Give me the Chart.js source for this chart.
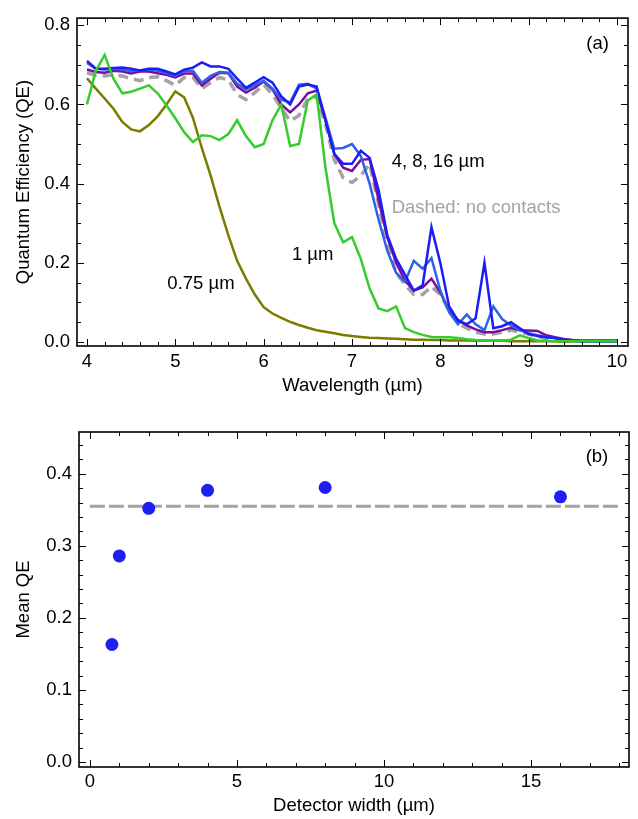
<!DOCTYPE html>
<html>
<head>
<meta charset="utf-8">
<script src="https://cdn.jsdelivr.net/npm/chart.js@4.4.0/dist/chart.umd.min.js"></script>
<style>
  body { margin: 0; background: #fff; }
  #wrap { position: relative; width: 638px; height: 819px; }
  canvas { position: absolute; left: 0; }
  #topChart { top: 0; }
  #bottomChart { top: 400px; }
</style>
</head>
<body>
<div id="wrap">
  <canvas id="topChart" width="638" height="400"></canvas>
  <canvas id="bottomChart" width="638" height="419"></canvas>
</div>
<script>
// (a) quantum efficiency vs wavelength
const wavelength = [4.0,4.1,4.2,4.3,4.4,4.5,4.6,4.7,4.8,4.9,5.0,5.1,5.2,5.3,5.4,5.5,5.6,5.7,5.8,5.9,
  6.0,6.1,6.2,6.3,6.4,6.5,6.6,6.7,6.8,6.9,7.0,7.1,7.2,7.3,7.4,7.5,7.6,7.7,7.8,7.9,
  8.0,8.1,8.2,8.3,8.4,8.5,8.6,8.7,8.8,8.9,9.0,9.1,9.2,9.3,9.4,9.5,9.6,9.7,9.8,9.9,10.0];

const qeW075 = [0.666,0.640,0.615,0.589,0.556,0.537,0.532,0.548,0.570,0.600,
  0.633,0.618,0.566,0.490,0.420,0.342,0.270,0.205,0.160,0.120,
  0.088,0.072,0.061,0.051,0.043,0.036,0.030,0.026,0.022,0.018,
  0.015,0.013,0.011,0.010,0.009,0.008,0.007,0.006,0.006,0.005,
  0.005,0.004,0.004,0.004,0.003,0.003,0.003,0.003,0.002,0.002,
  0.002,0.002,0.002,0.002,0.001,0.001,0.001,0.001,0.001,0.001,0.001];

const qeW1 = [0.600,0.685,0.725,0.665,0.628,0.632,0.640,0.648,0.628,0.598,
  0.565,0.530,0.505,0.522,0.520,0.510,0.525,0.560,0.520,0.492,
  0.500,0.560,0.600,0.495,0.500,0.610,0.625,0.440,0.300,0.252,
  0.265,0.210,0.135,0.085,0.078,0.090,0.035,0.025,0.018,0.013,
  0.012,0.012,0.010,0.007,0.005,0.004,0.004,0.004,0.006,0.017,
  0.010,0.004,0.003,0.002,0.002,0.002,0.002,0.002,0.002,0.002,0.002];

const qeW4 = [0.688,0.682,0.680,0.685,0.683,0.678,0.683,0.683,0.679,0.675,
  0.668,0.678,0.678,0.648,0.665,0.680,0.679,0.645,0.630,0.642,
  0.658,0.638,0.600,0.580,0.600,0.628,0.635,0.560,0.475,0.440,
  0.432,0.460,0.462,0.360,0.265,0.200,0.155,0.130,0.138,0.160,
  0.125,0.080,0.056,0.042,0.032,0.025,0.025,0.030,0.036,0.030,
  0.029,0.028,0.017,0.012,0.008,0.005,0.004,0.004,0.004,0.004,0.004];

const qeW8 = [0.710,0.690,0.690,0.692,0.693,0.690,0.686,0.690,0.690,0.683,
  0.676,0.688,0.693,0.706,0.696,0.696,0.690,0.665,0.642,0.655,
  0.669,0.655,0.620,0.600,0.645,0.650,0.645,0.560,0.475,0.450,
  0.450,0.483,0.465,0.385,0.270,0.210,0.170,0.130,0.143,0.290,
  0.200,0.090,0.054,0.045,0.060,0.200,0.035,0.040,0.050,0.035,
  0.020,0.015,0.012,0.010,0.006,0.003,0.002,0.002,0.002,0.002,0.002];

const qeW16 = [0.705,0.690,0.688,0.690,0.688,0.684,0.686,0.688,0.685,0.680,
  0.672,0.685,0.685,0.655,0.672,0.682,0.680,0.652,0.638,0.648,
  0.660,0.640,0.612,0.605,0.650,0.652,0.640,0.566,0.488,0.490,
  0.500,0.470,0.400,0.310,0.230,0.175,0.152,0.205,0.185,0.212,
  0.130,0.075,0.045,0.070,0.045,0.030,0.090,0.058,0.042,0.030,
  0.022,0.017,0.013,0.010,0.006,0.004,0.002,0.002,0.002,0.002,0.002];

const qeNoContacts = [0.680,0.673,0.672,0.675,0.672,0.665,0.660,0.668,0.670,0.660,
  0.648,0.668,0.668,0.640,0.655,0.668,0.662,0.625,0.612,0.630,
  0.650,0.625,0.590,0.558,0.572,0.615,0.620,0.550,0.460,0.415,
  0.403,0.420,0.450,0.350,0.245,0.175,0.145,0.120,0.120,0.140,
  0.120,0.080,0.047,0.035,0.025,0.020,0.020,0.025,0.030,0.025,
  0.020,0.014,0.008,0.005,0.003,0.002,0.002,0.002,0.002,0.002,0.002];

// (b) mean QE vs detector width
const detectorWidth = [0.75, 1, 2, 4, 8, 16];
const meanQE = [0.163, 0.286, 0.352, 0.377, 0.381, 0.368];
const noContactMean = 0.355;
const noContactSpan = [0, 18];

const FONT = "'Liberation Sans', Arial, Helvetica, sans-serif";
const FS = 18.5;

function isMajor(v, step) {
    return Math.abs(v / step - Math.round(v / step)) < 1e-6;
}

function tickList(from, to, step) {
    const out = [];
    const n = Math.round((to - from) / step);
    for (let i = 0; i <= n; i++) out.push({ value: +(from + i * step).toFixed(4) });
    return out;
}

function toPoints(xs, ys) {
    return xs.map((x, i) => ({ x: x, y: ys[i] }));
}

// inward ticks on all four sides plus the frame
const frameTicks = {
    id: 'frameTicks',
    afterDraw(chart, args, opts) {
        const { ctx, chartArea: a } = chart;
        const xs = chart.scales.x, ys = chart.scales.y;
        ctx.save();
        ctx.strokeStyle = '#000';
        ctx.lineWidth = 1;
        ctx.beginPath();
        xs.ticks.forEach(t => {
            const p = Math.round(xs.getPixelForValue(t.value)) + 0.5;
            const len = isMajor(t.value, opts.xMajor) ? 7 : 4;
            ctx.moveTo(p, a.bottom); ctx.lineTo(p, a.bottom - len);
            ctx.moveTo(p, a.top); ctx.lineTo(p, a.top + len);
        });
        ys.ticks.forEach(t => {
            const p = Math.round(ys.getPixelForValue(t.value)) + 0.5;
            const len = isMajor(t.value, opts.yMajor) ? 7 : 4;
            ctx.moveTo(a.left, p); ctx.lineTo(a.left + len, p);
            ctx.moveTo(a.right, p); ctx.lineTo(a.right - len, p);
        });
        ctx.stroke();
        ctx.lineWidth = 1.6;
        ctx.strokeRect(a.left, a.top, a.right - a.left, a.bottom - a.top);
        ctx.restore();
    }
};

// text notes placed in data coordinates
const notes = {
    id: 'notes',
    afterDatasetsDraw(chart, args, opts) {
        const { ctx } = chart;
        const xs = chart.scales.x, ys = chart.scales.y;
        ctx.save();
        ctx.font = FS + 'px ' + FONT;
        ctx.textBaseline = 'middle';
        opts.items.forEach(n => {
            ctx.fillStyle = n.color;
            ctx.textAlign = n.align;
            ctx.fillText(n.text, xs.getPixelForValue(n.x), ys.getPixelForValue(n.y));
        });
        ctx.restore();
    }
};

function lineSet(label, data, color, width, dash) {
    return {
        label: label,
        data: toPoints(wavelength, data),
        borderColor: color,
        borderWidth: width,
        borderDash: dash || [],
        pointRadius: 0,
        fill: false,
        tension: 0
    };
}

new Chart(document.getElementById('topChart'), {
    type: 'line',
    data: {
        datasets: [
            lineSet('1 µm', qeW1, '#35cc2c', 2.5),
            lineSet('8 µm', qeW8, '#1c1cf6', 2.5),
            lineSet('16 µm', qeW16, '#2c62e6', 2.5),
            lineSet('4 µm', qeW4, '#7d0a9e', 2.5),
            lineSet('no contacts', qeNoContacts, '#a3a3a3', 3.5, [10, 6]),
            lineSet('0.75 µm', qeW075, '#7b7b00', 2.5)
        ]
    },
    options: {
        responsive: false,
        animation: false,
        devicePixelRatio: 1,
        layout: { padding: { top: 6, right: 10, left: 0, bottom: 0 } },
        plugins: {
            legend: { display: false },
            tooltip: { enabled: false },
            frameTicks: { xMajor: 1, yMajor: 0.2 },
            notes: {
                items: [
                    { text: '(a)', x: 9.78, y: 0.752, color: '#000', align: 'center' },
                    { text: '4, 8, 16 µm', x: 7.45, y: 0.455, color: '#000', align: 'left' },
                    { text: 'Dashed: no contacts', x: 7.45, y: 0.338, color: '#a3a3a3', align: 'left' },
                    { text: '1 µm', x: 6.32, y: 0.221, color: '#000', align: 'left' },
                    { text: '0.75 µm', x: 4.91, y: 0.148, color: '#000', align: 'left' }
                ]
            }
        },
        scales: {
            x: {
                type: 'linear',
                min: 3.887,
                max: 10.125,
                grid: { display: false, drawTicks: false },
                border: { display: false },
                afterBuildTicks: s => { s.ticks = tickList(4, 10, 0.2); },
                afterFit: s => { s.height = 54; },
                ticks: {
                    autoSkip: false, maxRotation: 0, padding: 5, color: '#000',
                    font: { family: FONT, size: FS },
                    callback: v => isMajor(v, 1) ? String(Math.round(v)) : ''
                },
                title: {
                    display: true, text: 'Wavelength (µm)', color: '#000',
                    font: { family: FONT, size: FS }, padding: { top: 0, bottom: 3 }
                }
            },
            y: {
                min: -0.01,
                max: 0.818,
                grid: { display: false, drawTicks: false },
                border: { display: false },
                afterBuildTicks: s => { s.ticks = tickList(0, 0.8, 0.05); },
                afterFit: s => { s.width = 77; },
                ticks: {
                    autoSkip: false, padding: 7, color: '#000',
                    font: { family: FONT, size: FS },
                    callback: v => isMajor(v, 0.2) ? v.toFixed(1) : ''
                },
                title: {
                    display: true, text: 'Quantum Efficiency (QE)', color: '#000',
                    font: { family: FONT, size: FS }, padding: { top: 13, bottom: 0 }
                }
            }
        }
    },
    plugins: [frameTicks, notes]
});

new Chart(document.getElementById('bottomChart'), {
    type: 'scatter',
    data: {
        datasets: [
            {
                label: 'Mean QE',
                data: toPoints(detectorWidth, meanQE),
                backgroundColor: '#1e1ef5',
                borderWidth: 0,
                pointRadius: 6.5
            },
            {
                label: 'no contacts',
                type: 'line',
                data: noContactSpan.map(x => ({ x: x, y: noContactMean })),
                borderColor: '#a3a3a3',
                borderWidth: 3,
                borderDash: [15, 4],
                pointRadius: 0,
                fill: false
            }
        ]
    },
    options: {
        responsive: false,
        animation: false,
        devicePixelRatio: 1,
        layout: { padding: { top: 32, right: 9, left: 0, bottom: 0 } },
        plugins: {
            legend: { display: false },
            tooltip: { enabled: false },
            frameTicks: { xMajor: 5, yMajor: 0.1 },
            notes: {
                items: [
                    { text: '(b)', x: 17.24, y: 0.424, color: '#000', align: 'center' }
                ]
            }
        },
        scales: {
            x: {
                type: 'linear',
                min: -0.37,
                max: 18.33,
                grid: { display: false, drawTicks: false },
                border: { display: false },
                afterBuildTicks: s => { s.ticks = tickList(0, 18, 1); },
                afterFit: s => { s.height = 52; },
                ticks: {
                    autoSkip: false, maxRotation: 0, padding: 4, color: '#000',
                    font: { family: FONT, size: FS },
                    callback: v => isMajor(v, 5) ? String(Math.round(v)) : ''
                },
                title: {
                    display: true, text: 'Detector width (µm)', color: '#000',
                    font: { family: FONT, size: FS }, padding: { top: 0, bottom: 2 }
                }
            },
            y: {
                min: -0.007,
                max: 0.458,
                grid: { display: false, drawTicks: false },
                border: { display: false },
                afterBuildTicks: s => { s.ticks = tickList(0, 0.44, 0.02); },
                afterFit: s => { s.width = 79; },
                ticks: {
                    autoSkip: false, padding: 7, color: '#000',
                    font: { family: FONT, size: FS },
                    callback: v => isMajor(v, 0.1) ? v.toFixed(1) : ''
                },
                title: {
                    display: true, text: 'Mean QE', color: '#000',
                    font: { family: FONT, size: FS }, padding: { top: 13, bottom: 0 }
                }
            }
        }
    },
    plugins: [frameTicks, notes]
});
</script>
</body>
</html>
